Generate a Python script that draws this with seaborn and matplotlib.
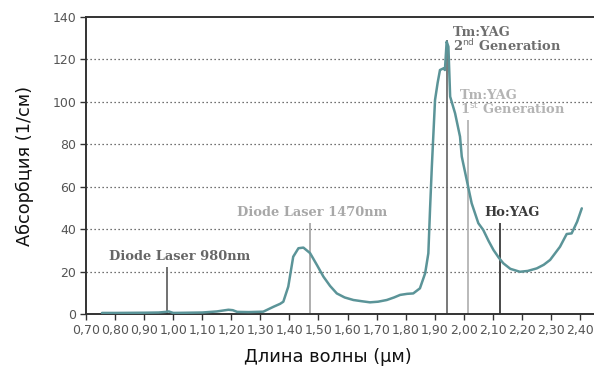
import matplotlib
matplotlib.use("Agg")
import matplotlib.pyplot as plt
import seaborn as sns
import pandas as pd

wavelength = [0.755, 0.80, 0.90, 0.95, 0.975, 0.985, 1.00, 1.05, 1.10, 1.15, 1.19, 1.205, 1.22, 1.26, 1.31,
              1.345, 1.368, 1.379, 1.396, 1.413, 1.431, 1.448, 1.471, 1.495, 1.517, 1.540, 1.563, 1.590,
              1.620, 1.650, 1.677, 1.705, 1.735, 1.760, 1.781, 1.805, 1.826,
              1.849, 1.867, 1.878, 1.884, 1.890, 1.901, 1.910, 1.918, 1.930, 1.935, 1.941, 1.947, 1.953,
              1.970, 1.987, 1.993, 2.010, 2.027, 2.050, 2.067, 2.085, 2.102, 2.120, 2.136, 2.160, 2.193,
              2.220, 2.251, 2.275, 2.297, 2.331, 2.354, 2.371, 2.390, 2.406]
absorption = [0.5, 0.5, 0.6, 0.7, 1.0, 1.2, 0.5, 0.6, 0.7, 1.2, 2.0, 1.8, 1.0, 0.9, 1.1,
              3.4, 4.8, 5.8, 12.9, 27.0, 31.0, 31.3, 28.7, 23.0, 17.6, 13.2, 9.7, 7.8,
              6.6, 6.0, 5.5, 5.8, 6.6, 7.8, 9.0, 9.5, 9.7,
              12.1, 19.2, 28.6, 50.0, 69.4, 100.9, 109.0, 115.0, 115.8, 115.0, 128.4, 126.0, 102.5,
              94.6, 83.6, 74.2, 63.2, 52.2, 42.8, 39.6, 34.5, 30.2, 26.6, 23.9, 21.3, 19.9,
              20.3, 21.5, 23.2, 25.5, 31.7, 37.7, 38.0, 43.5, 49.8]

xticks = [0.70, 0.80, 0.90, 1.00, 1.10, 1.20, 1.30, 1.40, 1.50, 1.60, 1.70, 1.80, 1.90, 2.00, 2.10, 2.20, 2.30, 2.40]
xtick_labels = [f"{v:.2f}".replace(".", ",") for v in xticks]
yticks = [0, 20, 40, 60, 80, 100, 120, 140]

laser_names = ["Diode Laser 980nm", "Diode Laser 1470nm", "Tm:YAG\n2$^{\\rm nd}$ Generation",
               "Tm:YAG\n1$^{\\rm st}$ Generation", "Ho:YAG"]
laser_pos = [0.98, 1.47, 1.943, 2.015, 2.123]
laser_top = [22, 43, 129, 91.5, 43]
laser_colors = ["#666666", "#a8a8a8", "#6e6e6e", "#b4b4b4", "#3a3a3a"]
label_x = [0.779, 1.220, 1.964, 1.988, 2.069]
label_y = [26.9, 48.0, 129.2, 99.5, 48.0]

sns.set_theme(style="white")
plt.rcParams['font.family'] = ['Liberation Sans Narrow', 'DejaVu Sans']

fig = plt.figure(figsize=(5.94, 3.69), dpi=100)
ax = fig.add_axes([86/594, 1-314/369, 1-86/594, (314-17)/369])

df = pd.DataFrame({"wl": wavelength, "abs": absorption})

for y in yticks[1:-1]:
    ax.axhline(y, color="#444444", lw=0.9, ls=(0, (1, 2.2)), zorder=1)

for p, t, c in zip(laser_pos, laser_top, laser_colors):
    ax.vlines(p, 0, t, color=c, lw=1.3, zorder=2)

sns.lineplot(data=df, x="wl", y="abs", ax=ax, color="#5b9498", lw=1.8, zorder=3)

serif = dict(family=['DejaVu Serif'], fontweight='bold', fontsize=9.4)
for name, x, y, c in zip(laser_names, label_x, label_y, laser_colors):
    ax.text(x, y, name, color=c, ha='left', va='center', linespacing=0.95, **serif)

ax.set_xlim(0.70, 2.448)
ax.set_ylim(0, 140)
ax.set_xticks(xticks)
ax.set_xticklabels(xtick_labels)
ax.set_yticks(yticks)
ax.tick_params(axis='both', which='both', direction='out', length=4, width=1, color="#333333",
               labelsize=9, labelcolor="#555555", pad=3)
ax.tick_params(bottom=True, left=True)
for s in ["left", "bottom", "top"]:
    ax.spines[s].set_color("#333333")
    ax.spines[s].set_linewidth(1.4)
ax.spines["right"].set_visible(False)

ax.set_xlabel("Длина волны (μм)", fontsize=12.8, color="#111111", labelpad=6)
ax.xaxis.set_label_coords(0.476, -0.115)
ax.set_ylabel("Абсорбция (1/см)", fontsize=12.8, color="#111111", labelpad=13)

fig.savefig("out.png", dpi=100)
